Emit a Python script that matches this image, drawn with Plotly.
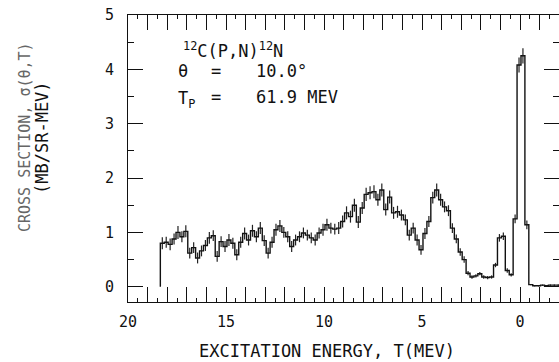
import numpy as np
import plotly.graph_objects as go

# ---- data ----
bin_width = 0.2          # MeV
first_bin_center = 18.25 # MeV, bins run toward lower excitation energy

cross_section = [
    0.80, 0.82, 0.78, 0.88, 1.00, 0.92, 1.02, 0.62, 0.72, 0.53,
    0.66, 0.76, 0.90, 0.94, 0.56, 0.83, 0.74, 0.86, 0.80, 0.59,
    0.82, 0.98, 0.86, 1.03, 0.92, 1.08, 0.85, 0.62, 0.82, 1.05,
    1.12, 1.00, 0.92, 0.74, 0.86, 0.92, 0.99, 0.95, 0.90, 0.86,
    0.99, 1.05, 1.14, 1.08, 1.06, 1.08, 1.20, 1.36, 1.29, 1.50,
    1.19, 1.45, 1.70, 1.73, 1.75, 1.60, 1.78, 1.42, 1.65, 1.36,
    1.38, 1.32, 1.23, 0.95, 1.08, 0.86, 0.68, 0.98, 1.20, 1.64,
    1.78, 1.60, 1.47, 1.40, 1.08, 0.88, 0.64, 0.50, 0.25, 0.18,
    0.20, 0.24, 0.18, 0.17, 0.18, 0.40, 0.90, 0.93, 0.30, 0.22,
    1.25, 4.08, 4.25, 1.14, 0.04, 0.02, 0.02, 0.03, 0.02, 0.03,
    0.03, 0.03,
]
cross_section_err = [
    0.11, 0.10, 0.11, 0.10, 0.12, 0.10, 0.11, 0.10, 0.10, 0.10,
    0.10, 0.10, 0.11, 0.10, 0.10, 0.10, 0.10, 0.11, 0.10, 0.10,
    0.10, 0.11, 0.10, 0.11, 0.10, 0.11, 0.10, 0.10, 0.10, 0.11,
    0.11, 0.10, 0.10, 0.10, 0.10, 0.10, 0.10, 0.10, 0.10, 0.10,
    0.10, 0.11, 0.11, 0.10, 0.10, 0.11, 0.11, 0.12, 0.11, 0.12,
    0.11, 0.11, 0.12, 0.12, 0.12, 0.11, 0.12, 0.11, 0.12, 0.11,
    0.11, 0.10, 0.10, 0.10, 0.10, 0.10, 0.09, 0.10, 0.10, 0.11,
    0.12, 0.11, 0.10, 0.10, 0.09, 0.08, 0.07, 0.06, 0.04, 0.03,
    0.03, 0.03, 0.03, 0.03, 0.03, 0.04, 0.07, 0.07, 0.04, 0.03,
    0.08, 0.14, 0.14, 0.08, 0.01, 0.01, 0.01, 0.01, 0.01, 0.01,
    0.01, 0.01,
]

x_tick_step = 5      # labelled ticks every 5 MeV
y_tick_step = 1      # labelled ticks every 1 mb/sr-MeV

# ---- derived bin geometry ----
n = len(cross_section)
centers = first_bin_center - bin_width * np.arange(n)
left_edges = centers + bin_width / 2
step_x = [left_edges[0]] + list(left_edges) + [centers[-1] - bin_width / 2]
step_y = [0.0] + list(cross_section) + [cross_section[-1]]

INK = "#111111"
FONT = "DejaVu Sans Mono"

fig = go.Figure()
fig.add_trace(go.Scatter(
    x=centers, y=cross_section, mode="markers", marker=dict(size=1, color=INK),
    error_y=dict(type="data", array=cross_section_err, visible=True,
                 color="#222", thickness=1.2, width=0),
    showlegend=False, hoverinfo="skip", xaxis="x2", yaxis="y"))
fig.add_trace(go.Scatter(
    x=step_x, y=step_y, mode="lines", line=dict(shape="hv", color=INK, width=1.4),
    hoverinfo="skip", showlegend=False, xaxis="x", yaxis="y"))
fig.add_trace(go.Scatter(
    x=[centers[-1]], y=[cross_section[-1]], mode="markers", marker=dict(size=0.1, opacity=0),
    showlegend=False, hoverinfo="skip", xaxis="x", yaxis="y2"))

xr = [20, -1.99]
yr = [-0.28, 5.0]
tickfont = dict(family=FONT, size=15, color=INK)

fig.update_layout(
    width=559, height=362,
    margin=dict(l=128, r=0, t=15, b=60, autoexpand=False),
    paper_bgcolor="white", plot_bgcolor="white",
    xaxis=dict(range=xr, automargin=False, showgrid=False, zeroline=False, showline=True,
               linecolor=INK, linewidth=1, mirror="allticks", ticks="inside", ticklen=15,
               tickwidth=1, tickcolor=INK, tickmode="linear", tick0=0, dtick=x_tick_step,
               tickfont=tickfont, ticklabelstandoff=6,
               minor=dict(tickmode="linear", tick0=0, dtick=1, ticks="inside", ticklen=8,
                          tickcolor=INK, tickwidth=1, showgrid=False)),
    xaxis2=dict(range=xr, automargin=False, overlaying="x", anchor="y",
                side="bottom", showgrid=False, zeroline=False, showline=False,
                mirror="allticks", ticks="inside", ticklen=4, tickwidth=1, tickcolor=INK,
                tickmode="linear", tick0=0, dtick=0.5, showticklabels=False),
    yaxis=dict(range=yr, automargin=False, showgrid=False, zeroline=False, showline=True,
               linecolor=INK, linewidth=1, ticks="inside", ticklen=15, tickwidth=1,
               tickcolor=INK, tickmode="linear", tick0=0, dtick=y_tick_step,
               tickfont=tickfont, ticklabelstandoff=10,
               minor=dict(tickmode="linear", tick0=0, dtick=0.5, ticks="inside", ticklen=6,
                          tickcolor=INK, tickwidth=1, showgrid=False)),
    yaxis2=dict(range=yr, automargin=False, overlaying="y", anchor="x",
                side="right", showgrid=False, zeroline=False, showline=False,
                ticks="inside", ticklen=15, tickwidth=1, tickcolor=INK, tickmode="linear",
                tick0=0, dtick=y_tick_step, showticklabels=False,
                minor=dict(tickmode="linear", tick0=0, dtick=0.5, ticks="inside",
                           ticklen=6, tickcolor=INK, tickwidth=1)),
)

def px(x):
    return (x - 128) / 431.0

def py(y):
    return (302 - y) / 287.0

ann_font = dict(family=FONT, size=17, color=INK)
annotations = [
    dict(x=px(181), y=py(50), text="<sup>12</sup>C(P,N)<sup>12</sup>N", xanchor="left", yanchor="middle"),
    dict(x=px(176), y=py(71), text="θ", xanchor="left", yanchor="middle"),
    dict(x=px(209), y=py(71), text="=", xanchor="left", yanchor="middle"),
    dict(x=px(254), y=py(71), text="10.0°", xanchor="left", yanchor="middle"),
    dict(x=px(176), y=py(99), text="T<sub>P</sub>", xanchor="left", yanchor="middle"),
    dict(x=px(209), y=py(97), text="=", xanchor="left", yanchor="middle"),
    dict(x=px(254), y=py(97), text="61.9 MEV", xanchor="left", yanchor="middle"),
]
for a in annotations:
    fig.add_annotation(xref="paper", yref="paper", showarrow=False, font=ann_font, **a)

# axis titles
fig.add_annotation(xref="paper", yref="paper", x=px(327), y=py(351), showarrow=False,
                   text="EXCITATION ENERGY, T(MEV)", xanchor="center", yanchor="middle",
                   font=dict(family=FONT, size=17, color=INK))
fig.add_annotation(xref="paper", yref="paper", x=px(25), y=py(137), showarrow=False,
                   text="CROSS SECTION, σ(θ,T)", textangle=-90, xanchor="center",
                   yanchor="middle", font=dict(family=FONT, size=15, color="#666"))
fig.add_annotation(xref="paper", yref="paper", x=px(42), y=py(138), showarrow=False,
                   text="(MB/SR-MEV)", textangle=-90, xanchor="center",
                   yanchor="middle", font=dict(family=FONT, size=17, color=INK))

fig.write_html("out.html", config={"displayModeBar": False},
               post_script="document.body.style.margin='0';document.body.style.padding='0';")
